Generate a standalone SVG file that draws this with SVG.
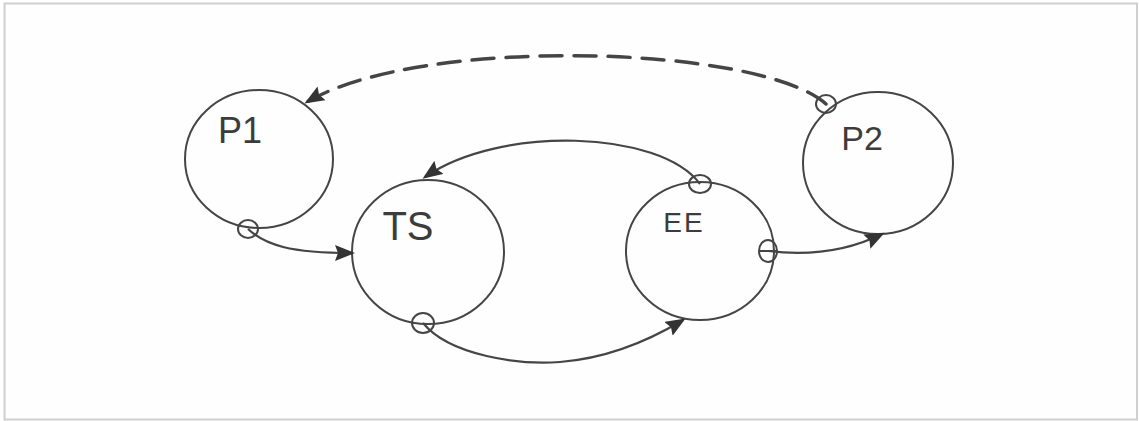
<svg xmlns="http://www.w3.org/2000/svg" width="1139" height="421" viewBox="0 0 1139 421">
  <style>
    .node { fill: none; stroke: #454545; stroke-width: 2; }
    .port { fill: none; stroke: #454545; stroke-width: 2; }
    .edge { fill: none; stroke: #454545; stroke-width: 2.2; }
    .dash { fill: none; stroke: #454545; stroke-width: 3.5; stroke-dasharray: 22 12; stroke-linecap: round; }
    .label { font-family: "Liberation Sans", Arial, sans-serif; fill: #3c3c3c; text-anchor: middle; }
  </style>
  <defs>
    <marker id="arrow" markerUnits="userSpaceOnUse" markerWidth="24" markerHeight="20" refX="17" refY="8" orient="auto">
      <path d="M0,0 L20,8 L0,16 L3,8 Z" fill="#333"/>
    </marker>
  </defs>
  <rect x="0" y="0" width="1139" height="421" fill="#ffffff"/>
  <rect x="4.5" y="3.5" width="1132.5" height="416" fill="#fefefe" stroke="#cfcfcf" stroke-width="2"/>

  <g id="P1">
    <ellipse class="node" cx="259" cy="159" rx="74" ry="69"/>
    <text class="label" x="240" y="143" font-size="36">P1</text>
  </g>
  <g id="TS">
    <ellipse class="node" cx="428" cy="252" rx="76" ry="72"/>
    <text class="label" x="408" y="240" font-size="40">TS</text>
  </g>
  <g id="EE">
    <ellipse class="node" cx="700" cy="251" rx="74" ry="69"/>
    <text class="label" x="684" y="232" font-size="28" letter-spacing="2">EE</text>
  </g>
  <g id="P2">
    <ellipse class="node" cx="878" cy="163" rx="75" ry="71"/>
    <text class="label" x="862" y="150" font-size="34">P2</text>
  </g>

  <g id="connectors">
    <path class="edge" d="M 248 229 C 265 245, 290 253, 352 253" marker-end="url(#arrow)"/>
    <ellipse class="port" cx="248" cy="229" rx="10" ry="9"/>

    <path class="edge" d="M 423 323 C 450 356, 520 365, 560 362 C 610 358, 650 340, 683 320" marker-end="url(#arrow)"/>
    <ellipse class="port" cx="423" cy="323" rx="11" ry="10"/>

    <path class="edge" d="M 700 184 C 660 130, 500 125, 425 177" marker-end="url(#arrow)"/>
    <ellipse class="port" cx="700" cy="184" rx="11" ry="9"/>

    <path class="edge" d="M 768 251 C 810 256, 850 250, 882 234" marker-end="url(#arrow)"/>
    <ellipse class="port" cx="768" cy="251" rx="9" ry="11"/>
    <line class="port" x1="759" y1="251" x2="777" y2="251"/>

    <path class="dash" d="M 826 104 C 760 45, 420 35, 307 102" marker-end="url(#arrow)"/>
    <ellipse class="port" cx="826" cy="104" rx="10" ry="9"/>
  </g>
</svg>
